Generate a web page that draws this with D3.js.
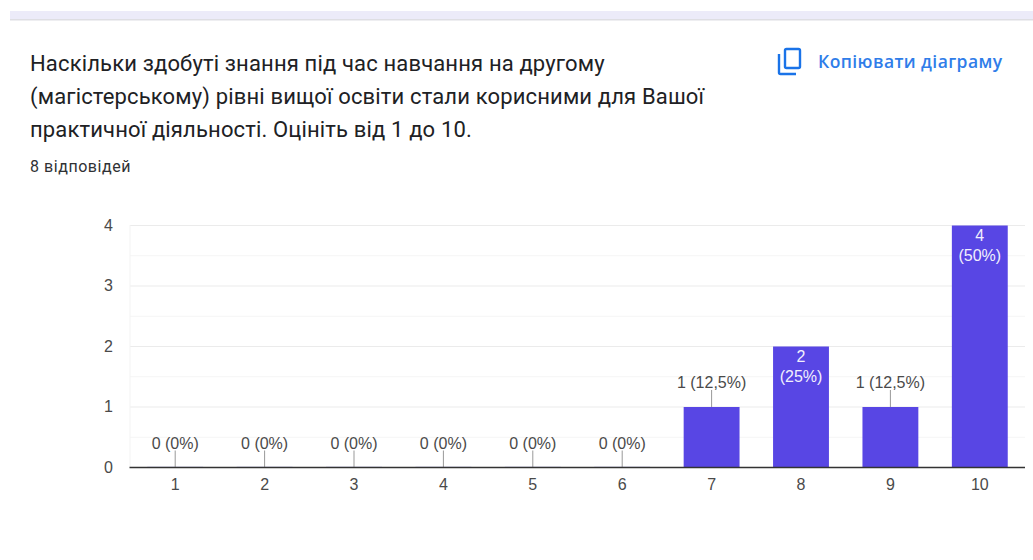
<!DOCTYPE html>
<html>
<head>
<meta charset="utf-8">
<title>Копіювати діаграму</title>
<script src="https://d3js.org/d3.v7.min.js"></script>
<style>
    html, body { margin: 0; padding: 0; background: #fff; }
    svg { display: block; }
    text { font-family: Roboto, sans-serif; }
    .title { font-size: 22px; fill: #202124; letter-spacing: 0.15px; }
    .count { font-size: 16px; fill: #303134; letter-spacing: 0.55px; }
    .copy { font-family: "Open Sans", sans-serif; font-size: 17.5px; font-weight: 600; fill: #2f7de9; letter-spacing: 0.42px; }
    .tick text { font-family: "Liberation Sans", sans-serif; font-size: 16px; fill: #4a4a4a; }
    .label { font-family: "Liberation Sans", sans-serif; font-size: 16px; }
</style>
</head>
<body>
<svg id="chart" width="1033" height="560"></svg>
<script>
    const categories = ["1", "2", "3", "4", "5", "6", "7", "8", "9", "10"];
    const counts = [0, 0, 0, 0, 0, 0, 1, 2, 1, 4];
    const labels = ["0 (0%)", "0 (0%)", "0 (0%)", "0 (0%)", "0 (0%)", "0 (0%)", "1 (12,5%)", "2 (25%)", "1 (12,5%)", "4 (50%)"];
    const yTicks = [0, 1, 2, 3, 4];
    const yMinorTicks = [0.5, 1.5, 2.5, 3.5];
    const titleLines = [
        "Наскільки здобуті знання під час навчання на другому",
        "(магістерському) рівні вищої освіти стали корисними для Вашої",
        "практичної діяльності. Оцініть від 1 до 10."
    ];

    const canvas = d3.select("svg#chart");
    const barColor = "#5846e4";

    // strip at the top of the card
    canvas.append("rect").attr("x", 10).attr("y", 11).attr("width", 1023).attr("height", 8).attr("fill", "#ecebf9");
    canvas.append("rect").attr("x", 10).attr("y", 19).attr("width", 1023).attr("height", 1.5).attr("fill", "#dedee3");

    // heading
    canvas.selectAll("text.title").data(titleLines).join("text")
        .attr("class", "title")
        .attr("x", 30)
        .attr("y", (d, i) => 71 + i * 33)
        .text(d => d);
    canvas.append("text").attr("class", "count").attr("x", 30).attr("y", 172).text("8 відповідей");

    // copy icon
    const icon = canvas.append("g").attr("fill", "none").attr("stroke", "#1a73e8").attr("stroke-width", 2.4);
    icon.append("rect").attr("x", 785).attr("y", 49).attr("width", 15).attr("height", 19).attr("rx", 1.5);
    icon.append("path").attr("d", "M779 54V72.5Q779 74 780.5 74H796");
    canvas.append("text").attr("class", "copy").attr("x", 818).attr("y", 67.5).text("Копіювати діаграму");

    // scales
    const x = d3.scaleBand().domain(categories).range([130.5, 1024.5]).paddingInner(0.375).paddingOuter(0.1875);
    const y = d3.scaleLinear().domain([0, 4]).range([467.5, 225.5]);

    // gridlines
    const chartArea = canvas.append("g");
    chartArea.selectAll("line.minor").data(yMinorTicks).join("line")
        .attr("class", "minor")
        .attr("x1", 130).attr("x2", 1025)
        .attr("y1", d => y(d)).attr("y2", d => y(d))
        .attr("stroke", "#f5f5f5");
    chartArea.selectAll("line.major").data(yTicks.slice(1)).join("line")
        .attr("class", "major")
        .attr("x1", 130).attr("x2", 1025)
        .attr("y1", d => y(d)).attr("y2", d => y(d))
        .attr("stroke", "#ebebeb");
    chartArea.append("line")
        .attr("x1", 130).attr("x2", 130).attr("y1", 225).attr("y2", 467)
        .attr("stroke", "#f3f3f3");

    // y axis
    const leftAxis = d3.axisLeft(y).tickValues(yTicks).tickSize(0).tickPadding(17).tickFormat(d3.format("d"));
    canvas.append("g").attr("transform", "translate(130,-0.5)").call(leftAxis)
        .call(g => g.select(".domain").remove());

    // bars, empty categories get a thin sliver on the baseline
    const rows = categories.map((c, i) => ({ category: c, count: counts[i], label: labels[i] }));
    chartArea.selectAll("rect.bar").data(rows).join("rect")
        .attr("class", "bar")
        .attr("x", d => x(d.category))
        .attr("width", x.bandwidth())
        .attr("y", d => d.count > 0 ? y(d.count) : y(0) - 1)
        .attr("height", d => d.count > 0 ? y(0) - y(d.count) : 1)
        .attr("fill", d => d.count > 0 ? barColor : "#dcd9f5");

    // x axis
    const bottomAxis = d3.axisBottom(x).tickSize(0).tickPadding(11);
    canvas.append("g").attr("transform", "translate(0,467.5)").call(bottomAxis)
        .call(g => g.select(".domain").attr("stroke", "#333").attr("stroke-width", 1.4).attr("d", "M129.5,0H1025"));

    // tall bars carry their label inside, the rest get a leader line
    const isInside = d => d.count >= 2;
    const center = d => x(d.category) + x.bandwidth() / 2;

    chartArea.selectAll("line.leader").data(rows.filter(d => !isInside(d))).join("line")
        .attr("class", "leader")
        .attr("x1", center).attr("x2", center)
        .attr("y1", d => y(d.count)).attr("y2", d => y(d.count) - 17)
        .attr("stroke", "#999").attr("stroke-width", 1);

    chartArea.selectAll("text.outer").data(rows.filter(d => !isInside(d))).join("text")
        .attr("class", "label outer")
        .attr("x", center)
        .attr("y", d => y(d.count) - 19)
        .attr("text-anchor", "middle")
        .attr("fill", "#4a4a4a")
        .text(d => d.label);

    const inner = chartArea.selectAll("text.inner").data(rows.filter(isInside)).join("text")
        .attr("class", "label inner")
        .attr("text-anchor", "middle")
        .attr("fill", "#f1effd");
    inner.append("tspan").attr("x", center).attr("y", d => y(d.count) + 15).text(d => d.label.split(" ")[0]);
    inner.append("tspan").attr("x", center).attr("y", d => y(d.count) + 35).text(d => d.label.split(" ")[1]);
</script>
</body>
</html>
